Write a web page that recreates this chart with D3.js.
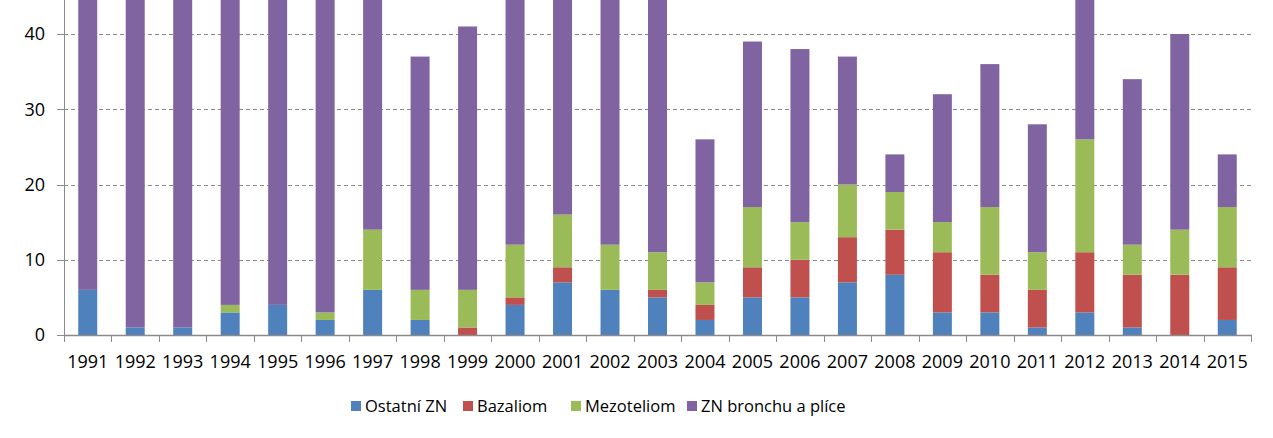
<!DOCTYPE html>
<html>
<head>
<meta charset="utf-8">
<script src="https://cdn.jsdelivr.net/npm/d3@7"></script>
<style>
  html, body { margin: 0; padding: 0; background: #fff; }
  svg { display: block; font-family: "Open Sans", "Liberation Sans", sans-serif; }
</style>
</head>
<body>
<svg id="chart" width="1273" height="438"></svg>
<script>
const years = ["1991","1992","1993","1994","1995","1996","1997","1998","1999","2000","2001","2002","2003","2004","2005","2006","2007","2008","2009","2010","2011","2012","2013","2014","2015"];
const ostatni   = [6,1,1,3,4,2,6,2,0,4,7,6,5,2,5,5,7,8,3,3,1,3,1,0,2];
const bazaliom  = [0,0,0,0,0,0,0,0,1,1,2,0,1,2,4,5,6,6,8,5,5,8,7,8,7];
const mezoteliom= [0,0,0,1,0,1,8,4,5,7,7,6,5,3,8,5,7,5,4,9,5,15,4,6,8];
const bronchus  = [49,59,57,48,46,52,34,31,35,38,31,37,35,19,22,23,17,5,17,19,17,20,22,26,7];
const seriesNames = ["Ostatní ZN","Bazaliom","Mezoteliom","ZN bronchu a plíce"];
const colors = ["#4F81BD","#C0504D","#9BBB59","#8064A2"];
const yTicks = [0,10,20,30,40];

const svg = d3.select("#chart");
const left = 64, right = 1251, base = 335;
const y = d3.scaleLinear().domain([0, 40]).range([base, 34]);
const x = d3.scaleBand().domain(years).range([left, right]).paddingInner(0.6).paddingOuter(0.3);
const xb = d3.scaleBand().domain(years).range([left, right]).padding(0);

const table = years.map((yr, i) => ({year: yr, s0: ostatni[i], s1: bazaliom[i], s2: mezoteliom[i], s3: bronchus[i]}));
const stack = d3.stack().keys(["s0","s1","s2","s3"])(table);

// gridlines
svg.append("g").selectAll("line").data(yTicks.filter(d => d > 0)).join("line")
  .attr("x1", left - 7).attr("x2", right + 2)
  .attr("y1", d => Math.round(y(d)) + 0.5).attr("y2", d => Math.round(y(d)) + 0.5)
  .attr("stroke", "#8a8a8a").attr("stroke-width", 1).attr("stroke-dasharray", "4,3");

// bars
svg.append("g").selectAll("g").data(stack).join("g")
  .attr("fill", (d, i) => colors[i])
  .selectAll("rect").data(d => d).join("rect")
  .attr("x", d => x(d.data.year))
  .attr("width", x.bandwidth())
  .attr("y", d => y(d[1]))
  .attr("height", d => Math.max(0, y(d[0]) - y(d[1])));

// y axis line
const axisColor = "#8a8a8a";
svg.append("line").attr("x1", left + 0.5).attr("x2", left + 0.5).attr("y1", -50).attr("y2", base)
  .attr("stroke", axisColor);
svg.append("g").selectAll("line").data(yTicks).join("line")
  .attr("x1", left - 7).attr("x2", left)
  .attr("y1", d => Math.round(y(d)) + 0.5).attr("y2", d => Math.round(y(d)) + 0.5)
  .attr("stroke", axisColor);
svg.append("g").selectAll("text").data(yTicks).join("text")
  .attr("x", 45).attr("y", d => y(d)).attr("dy", "0.35em")
  .attr("text-anchor", "end").attr("font-size", 18).attr("fill", "#000")
  .text(d => d);

// x axis
svg.append("line").attr("x1", left).attr("x2", right + 1).attr("y1", base + 0.5).attr("y2", base + 0.5)
  .attr("stroke", axisColor).attr("stroke-width", 1.5);
const bounds = years.map(d => xb(d)).concat([right]);
svg.append("g").selectAll("line").data(bounds).join("line")
  .attr("x1", d => Math.round(d) + 0.5).attr("x2", d => Math.round(d) + 0.5)
  .attr("y1", base).attr("y2", base + 7)
  .attr("stroke", axisColor);
svg.append("g").selectAll("text").data(years).join("text")
  .attr("x", d => xb(d) + xb.bandwidth() / 2).attr("y", 362).attr("dy", "0.35em")
  .attr("text-anchor", "middle").attr("font-size", 18).attr("fill", "#000")
  .text(d => d);

// legend
const legendX = [351, 463, 571, 687];
const lg = svg.append("g").selectAll("g").data(seriesNames).join("g")
  .attr("transform", (d, i) => `translate(${legendX[i]},406)`);
lg.append("rect").attr("x", 0).attr("y", -5).attr("width", 10).attr("height", 10)
  .attr("fill", (d, i) => colors[i]);
lg.append("text").attr("x", 14).attr("y", 0).attr("dy", "0.35em")
  .attr("font-size", 16.5).attr("fill", "#000").text(d => d);
</script>
</body>
</html>
